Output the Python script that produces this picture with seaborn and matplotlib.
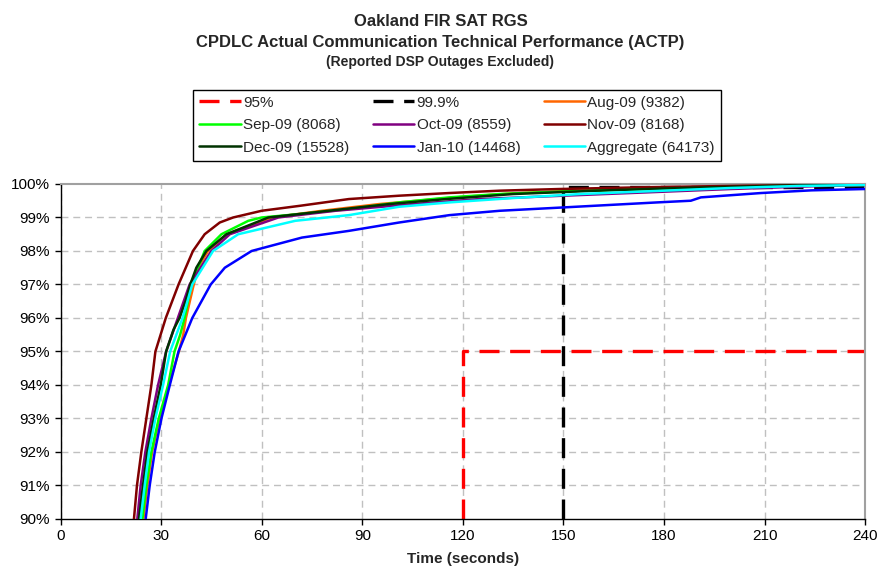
import pandas as pd
import matplotlib
matplotlib.use("Agg")
import matplotlib.pyplot as plt
import seaborn as sns

# Datos (tiempo en s, % acumulado)
aug_t = [24.7, 25.9, 27.3, 29.5, 32.3, 35.3, 36.6, 37.4, 39.5, 41, 44, 49.5, 63, 78, 95, 118, 135, 155, 180, 205, 240]
aug_p = [90, 91, 92, 93, 94, 95, 95.5, 96, 96.9, 97.5, 98, 98.5, 99, 99.2, 99.4, 99.6, 99.72, 99.8, 99.87, 99.93, 99.98]

sep_t = [24.4, 25.6, 27.1, 29.3, 32.1, 34, 35.7, 37, 39, 43, 48, 56, 60, 71, 86, 101, 116, 131, 150, 175, 200, 240]
sep_p = [90, 91, 92, 93, 94, 95, 95.5, 96, 97, 98, 98.5, 98.9, 99, 99.1, 99.25, 99.45, 99.6, 99.7, 99.78, 99.85, 99.92, 99.97]

oct_t = [22.9, 23.9, 25.3, 27.1, 29.1, 31.5, 35, 38.5, 45, 50.5, 65, 82, 105, 125, 150, 175, 200, 230, 240]
oct_p = [90, 91, 92, 93, 94, 95, 96, 97, 98, 98.5, 99, 99.2, 99.4, 99.55, 99.65, 99.75, 99.85, 99.95, 99.97]

nov_t = [21.9, 22.8, 24.1, 25.6, 27.1, 28.3, 31.4, 35.2, 39.5, 43, 47.5, 51.5, 60, 71.5, 86, 101, 116, 131, 149, 173, 205, 240]
nov_p = [90, 91, 92, 93, 94, 95, 96, 97, 98, 98.5, 98.85, 99, 99.2, 99.35, 99.55, 99.65, 99.73, 99.8, 99.85, 99.9, 99.95, 99.98]

dec_t = [23.4, 24.6, 25.9, 27.8, 29.9, 31.5, 33.7, 35.5, 37.3, 38.7, 40.5, 43.5, 49.5, 62, 80, 98, 115, 135, 160, 185, 215, 240]
dec_p = [90, 91, 92, 93, 94, 95, 95.65, 96, 96.5, 97, 97.5, 98, 98.5, 99, 99.2, 99.4, 99.55, 99.7, 99.8, 99.88, 99.95, 99.98]

jan_t = [25.4, 26.6, 28.1, 30.1, 32.6, 35.2, 39.3, 44.8, 49, 57, 72, 86, 101, 116, 131, 150, 178, 188, 191, 209, 224, 240]
jan_p = [90, 91, 92, 93, 94, 95, 96, 97, 97.5, 98, 98.4, 98.6, 98.85, 99.07, 99.2, 99.3, 99.45, 99.5, 99.6, 99.73, 99.81, 99.85]

agg_t = [23.9, 25.1, 26.4, 28.3, 30.6, 32.7, 36.4, 39.3, 45.5, 53, 70, 86, 101, 116, 135, 155, 180, 200, 220, 240]
agg_p = [90, 91, 92, 93, 94, 95, 96, 97, 98, 98.5, 98.9, 99.07, 99.32, 99.45, 99.58, 99.7, 99.8, 99.88, 99.94, 99.97]

# Líneas de requisito
req95_t = [120, 120, 240]
req95_p = [90, 95, 95]
req999_t = [150, 150, 240]
req999_p = [90, 99.9, 99.9]

series = [
    ("Aug-09 (9382)", aug_t, aug_p, "#FF6600"),
    ("Sep-09 (8068)", sep_t, sep_p, "#00FF00"),
    ("Oct-09 (8559)", oct_t, oct_p, "#800080"),
    ("Nov-09 (8168)", nov_t, nov_p, "#800000"),
    ("Dec-09 (15528)", dec_t, dec_p, "#003300"),
    ("Jan-10 (14468)", jan_t, jan_p, "#0000FF"),
    ("Aggregate (64173)", agg_t, agg_p, "#00FFFF"),
]

sns.set_style("white")
plt.rcParams['font.family'] = ['Liberation Sans', 'DejaVu Sans']

fig = plt.figure(figsize=(8.81, 5.78), dpi=100)
ax = fig.add_axes([0.0687, 0.1021, 0.9133, 0.5796])

# grid de Excel
for v in range(0, 241, 30):
    ax.axvline(v, color="#C0C0C0", lw=1, ls=(0, (5, 3.5)), zorder=0)
for v in range(91, 100):
    ax.axhline(v, color="#C0C0C0", lw=1, ls=(0, (5, 3.5)), zorder=0)

sns.lineplot(x=req95_t, y=req95_p, ax=ax, color="#FF0000", lw=2.4, sort=False,
             estimator=None, label="95%", linestyle=(0, (6, 3.2)), zorder=2)
sns.lineplot(x=req999_t, y=req999_p, ax=ax, color="#000000", lw=2.4, sort=False,
             estimator=None, label="99.9%", linestyle=(0, (6, 3.2)), zorder=2)

for name, t, p, c in series:
    df = pd.DataFrame({"Tiempo": t, "Porcentaje": p})
    sns.lineplot(data=df, x="Tiempo", y="Porcentaje", ax=ax, color=c, lw=1.8,
                 sort=False, estimator=None, label=name, zorder=3)

ax.set_xlim(0, 240)
ax.set_ylim(90, 100)
ax.set_xticks(range(0, 241, 30))
ax.set_yticks(range(90, 101))
ax.set_yticklabels([f"{v}%" for v in range(90, 101)])
ax.tick_params(axis="both", labelsize=11, direction="out", length=4, width=1,
               colors="black", left=True, bottom=True)
ax.set_xlabel("Time (seconds)", fontsize=11, fontweight="bold", labelpad=6)
ax.set_ylabel("")

for s in ["left", "bottom"]:
    ax.spines[s].set_color("black")
    ax.spines[s].set_linewidth(1)
for s in ["top", "right"]:
    ax.spines[s].set_color("#A0A0A0")
    ax.spines[s].set_linewidth(1.5)

# leyenda en filas como en Excel
handles, labels = ax.get_legend_handles_labels()
ax.get_legend().remove()
order = [0, 3, 6, 1, 4, 7, 2, 5, 8]
fig.legend([handles[i] for i in order], [labels[i] for i in order],
           loc="upper center", bbox_to_anchor=(0.519, 0.845), ncol=3,
           fontsize=11, frameon=True, fancybox=False, edgecolor="black",
           framealpha=1, handlelength=2.7, handletextpad=0.15,
           columnspacing=1.55, labelspacing=0.55, borderpad=0.4,
           borderaxespad=0)

fig.text(0.5, 0.963, "Oakland FIR SAT RGS", ha="center", va="center",
         fontsize=12, fontweight="bold")
fig.text(0.5, 0.927, "CPDLC Actual Communication Technical Performance (ACTP)",
         ha="center", va="center", fontsize=12, fontweight="bold")
fig.text(0.5, 0.893, "(Reported DSP Outages Excluded)", ha="center", va="center",
         fontsize=10, fontweight="bold")

plt.savefig("out.png", dpi=100)
